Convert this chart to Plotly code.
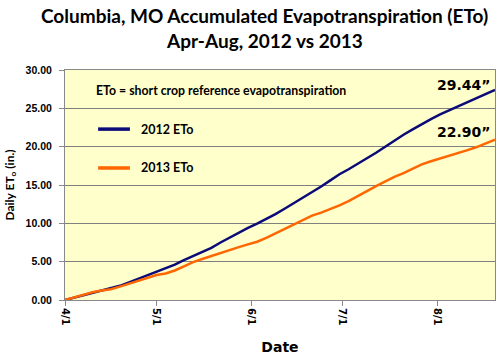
import plotly.graph_objects as go
import pandas as pd

start_date = "2013-04-01"
step_days = 3

eto_2012 = [0.00, 0.30, 0.62, 0.95, 1.25, 1.55, 1.85, 2.30, 2.75, 3.20, 3.60, 4.15,
            4.60, 5.20, 5.75, 6.25, 6.80, 7.50, 8.15, 8.80, 9.40, 9.95, 10.55, 11.20,
            11.90, 12.60, 13.30, 14.05, 14.80, 15.60, 16.40, 17.05, 17.75, 18.45, 19.20, 20.00,
            20.80, 21.55, 22.25, 22.95, 23.60, 24.20, 24.75, 25.30, 25.85, 26.35, 26.85, 27.40]
eto_2013 = [0.00, 0.35, 0.70, 1.00, 1.25, 1.40, 1.75, 2.15, 2.50, 2.85, 3.25, 3.45,
            3.85, 4.40, 4.95, 5.35, 5.75, 6.20, 6.55, 6.90, 7.25, 7.60, 8.10, 8.70,
            9.30, 9.85, 10.40, 11.00, 11.40, 11.85, 12.35, 12.90, 13.50, 14.20, 14.85, 15.50,
            16.05, 16.55, 17.15, 17.70, 18.10, 18.45, 18.80, 19.15, 19.55, 19.95, 20.40, 20.90]
dates = pd.date_range(start_date, periods=len(eto_2012), freq=f"{step_days}D")

tick_vals = ["2013-04-01", "2013-05-01", "2013-06-01", "2013-07-01", "2013-08-01"]
tick_text = ["4/1", "5/1", "6/1", "7/1", "8/1"]
total_labels = ["29.44\u201d", "22.90\u201d"]
title_lines = ["Columbia, MO Accumulated Evapotranspiration (ETo)", "Apr-Aug, 2012 vs 2013"]

fig = go.Figure()
fig.add_trace(go.Scatter(x=dates, y=eto_2012, mode="lines", name="2012 ETo",
                         line=dict(color="#0A0A78", width=2.5)))
fig.add_trace(go.Scatter(x=dates, y=eto_2013, mode="lines", name="2013 ETo",
                         line=dict(color="#FF6600", width=2.5)))

fig.update_layout(
    width=500, height=358,
    margin=dict(l=65, r=5, t=70, b=58),
    paper_bgcolor="white",
    plot_bgcolor="#FFFFCC",
    showlegend=False,
    xaxis=dict(range=["2013-04-01", "2013-08-20"], tickvals=tick_vals,
               ticktext=["<b>" + t + "</b>" for t in tick_text],
               tickangle=90, ticks="outside", ticklen=5, tickcolor="#888",
               automargin=False,
               showgrid=False, showline=True, linecolor="#888", mirror=True,
               tickfont=dict(family="DejaVu Sans", size=10, color="black"),
               title=dict(text="<b>Date</b>", font=dict(family="DejaVu Sans", size=14, color="black"), standoff=17)),
    yaxis=dict(range=[0, 30], dtick=5, tickformat=".2f", ticks="outside", ticklen=5, tickcolor="#888",
               ticklabelstandoff=5, automargin=False,
               showgrid=True, gridcolor="#808080", gridwidth=1,
               showline=True, linecolor="#888", mirror=True, zeroline=False,
               tickprefix="<b>", ticksuffix="</b>",
               tickfont=dict(family="Liberation Sans", size=10.5, color="black"),
               title=dict(text="<b>Daily ET<sub>o</sub> (in.)</b>",
                          font=dict(family="Lato", size=12, color="black"), standoff=8)),
)

for i, line in enumerate(title_lines):
    fig.add_annotation(x=0.465, y=1.0 + (55 - 25 * i) / 230, xref="paper", yref="paper",
                       xanchor="center", yanchor="middle", text="<b>" + line + "</b>", showarrow=False,
                       font=dict(family="Lato", size=19, color="black"))

fig.add_annotation(x=0.068, y=0.913, xref="paper", yref="paper", xanchor="left", yanchor="middle",
                   text="<b>ETo = short crop reference evapotranspiration</b>", showarrow=False,
                   font=dict(family="Lato", size=12.3, color="black"))
# legend-like entries
fig.add_shape(type="line", xref="paper", yref="paper", x0=0.077, x1=0.151, y0=0.743, y1=0.743,
              line=dict(color="#0A0A78", width=3.5))
fig.add_shape(type="line", xref="paper", yref="paper", x0=0.077, x1=0.151, y0=0.574, y1=0.574,
              line=dict(color="#FF6600", width=3.5))
fig.add_annotation(x=0.172, y=0.743, xref="paper", yref="paper", xanchor="left", yanchor="middle",
                   text="<b>2012 ETo</b>", showarrow=False, font=dict(family="Lato", size=12.5, color="black"))
fig.add_annotation(x=0.172, y=0.574, xref="paper", yref="paper", xanchor="left", yanchor="middle",
                   text="<b>2013 ETo</b>", showarrow=False, font=dict(family="Lato", size=12.5, color="black"))

fig.add_annotation(x=0.993, y=0.935, xref="paper", yref="paper", xanchor="right", yanchor="middle",
                   text="<b>" + total_labels[0] + "</b>", showarrow=False,
                   font=dict(family="DejaVu Sans", size=14, color="black"))
fig.add_annotation(x=0.993, y=0.73, xref="paper", yref="paper", xanchor="right", yanchor="middle",
                   text="<b>" + total_labels[1] + "</b>", showarrow=False,
                   font=dict(family="DejaVu Sans", size=14, color="black"))

fig.write_html("out.html", config={"displayModeBar": False},
               post_script="document.body.style.margin='0';")
